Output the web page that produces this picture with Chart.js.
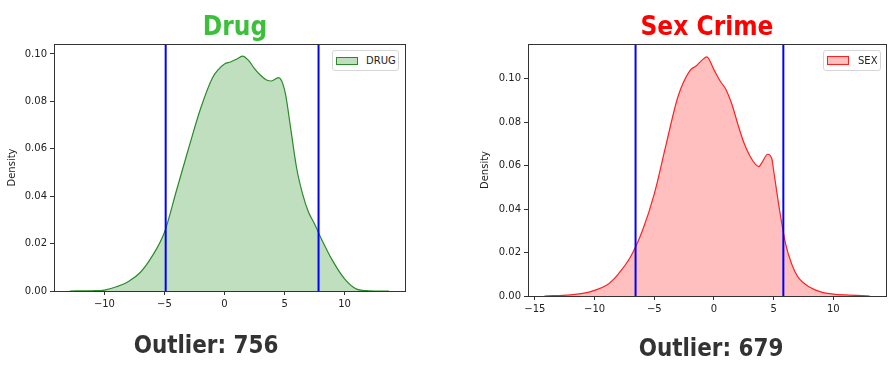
<!DOCTYPE html>
<html>
<head>
<meta charset="utf-8">
<script src="https://cdn.jsdelivr.net/npm/chart.js@4.4.1/dist/chart.umd.min.js"></script>
<style>
  body { margin: 0; background: #fff; font-family: "DejaVu Sans", sans-serif; }
  #wrap { position: relative; width: 894px; height: 377px; overflow: hidden; }
  canvas { position: absolute; top: 0; }
  .title, .outlier {
    position: absolute; width: 300px; text-align: center; font-weight: bold;
    white-space: nowrap; transform-origin: 50% 50%;
  }
  .title { font-size: 26px; line-height: 26px; transform: scaleX(0.9); }
  .outlier { font-size: 25px; line-height: 25px; color: #333; transform: scaleX(0.86); }
  .legend {
    position: absolute; background: #fff; border: 1px solid #d6d6d6; border-radius: 3px;
    font-size: 10px; color: #222; box-sizing: border-box;
  }
  .legend .patch { position: absolute; box-sizing: border-box; border-width: 1px; border-style: solid; }
  .legend .label { position: absolute; line-height: 12px; }
</style>
</head>
<body>
<div id="wrap">
  <canvas id="drugChart" width="447" height="377" style="left:0"></canvas>
  <canvas id="sexChart" width="447" height="377" style="left:447px"></canvas>

  <div class="title" style="left:85px; top:13px; color:#3cc03c;">Drug</div>
  <div class="title" style="left:557px; top:13px; color:#ff0000;">Sex Crime</div>

  <div class="outlier" style="left:56px; top:332px;">Outlier: 756</div>
  <div class="outlier" style="left:561px; top:335px;">Outlier: 679</div>

  <div class="legend" style="left:332px; top:50px; width:67px; height:21px;">
    <div class="patch" style="left:3px; top:6px; width:22px; height:8px; background:#bfdfbf; border-color:#2a8a2a;"></div>
    <div class="label" style="left:33px; top:4px;">DRUG</div>
  </div>
  <div class="legend" style="left:823px; top:50px; width:58px; height:21px;">
    <div class="patch" style="left:3px; top:5px; width:22px; height:9px; background:#ffbfbf; border-color:#ff2020;"></div>
    <div class="label" style="left:34px; top:4px;">SEX</div>
  </div>
</div>

<script>
// Drug KDE
const drugX = [-12.9, -11, -10, -9, -8, -7, -6, -5, -4, -3, -2, -1, -0.5, 0, 0.5, 1, 1.5, 2, 2.5, 3,
  3.5, 3.9, 4.5, 4.85, 5.1, 5.5, 6, 6.5, 7, 7.5, 8, 9, 10, 11, 12, 13.7];
const drugY = [0, 0.0001, 0.0004, 0.0018, 0.004, 0.0079, 0.0149, 0.0248, 0.0424, 0.060, 0.0769, 0.090,
  0.0935, 0.0958, 0.0966, 0.0978, 0.0991, 0.0973, 0.0938, 0.0910, 0.0890, 0.0886, 0.0900, 0.0875,
  0.0825, 0.069, 0.052, 0.041, 0.0332, 0.0283, 0.0227, 0.0128, 0.0051, 0.0008, 0.0001, 0];
const drugCuts = [-4.9, 7.83];
const drugXTicks = [-10, -5, 0, 5, 10];

// Sex crime KDE
const sexX = [-14.2, -12, -11, -10, -9, -8.5, -8, -7, -6, -5, -4, -3, -2, -1.5, -1, -0.6, 0, 0.5, 1,
  1.5, 2, 2.5, 3, 3.5, 3.75, 4, 4.5, 4.85, 5, 5.5, 6, 6.5, 7, 8, 9, 10, 11, 13.05];
const sexY = [0, 0.0005, 0.0012, 0.0026, 0.0049, 0.0072, 0.0102, 0.0179, 0.030, 0.047, 0.070, 0.092,
  0.1038, 0.1058, 0.1085, 0.110, 0.1040, 0.099, 0.095, 0.0882, 0.079, 0.0706, 0.0645, 0.0604, 0.0595,
  0.0612, 0.0652, 0.063, 0.0576, 0.0393, 0.024, 0.0148, 0.009, 0.0041, 0.0018, 0.0009, 0.0005, 0];
const sexCuts = [-6.57, 5.81];
const sexXTicks = [-15, -10, -5, 0, 5, 10];

const yTicks = [0, 0.02, 0.04, 0.06, 0.08, 0.10];

// draws the full matplotlib-style box round the plot
const frame = {
  id: "frame",
  afterDatasetsDraw(chart) {
    const a = chart.chartArea;
    const ctx = chart.ctx;
    ctx.save();
    ctx.strokeStyle = "#333";
    ctx.lineWidth = 1;
    ctx.strokeRect(Math.round(a.left) + 0.5, Math.round(a.top) + 0.5,
      Math.round(a.right - a.left), Math.round(a.bottom - a.top));
    ctx.restore();
  },
};

function makeChart(id, xs, ys, cuts, xTicks, lineColor, fillColor, xRange, yMax, pad, yWidth) {
  const ctx = document.getElementById(id).getContext("2d");
  const cutSets = cuts.map((c) => ({
    data: [{ x: c, y: 0 }, { x: c, y: yMax }],
    borderColor: "#0000ff",
    borderWidth: 2,
    pointRadius: 0,
    fill: false,
    order: 0,
  }));
  return new Chart(ctx, {
    type: "line",
    data: {
      datasets: [
        {
          data: xs.map((x, i) => ({ x: x, y: ys[i] })),
          borderColor: lineColor,
          backgroundColor: fillColor,
          borderWidth: 1.2,
          pointRadius: 0,
          cubicInterpolationMode: "monotone",
          fill: "origin",
          order: 1,
        },
        ...cutSets,
      ],
    },
    options: {
      responsive: false,
      animation: false,
      devicePixelRatio: 1,
      layout: { padding: pad },
      plugins: { legend: { display: false }, tooltip: { enabled: false } },
      scales: {
        x: {
          type: "linear",
          min: xRange[0],
          max: xRange[1],
          border: { display: false },
          grid: { drawOnChartArea: false, color: "#333", tickLength: 4 },
          afterBuildTicks: (s) => { s.ticks = xTicks.map((v) => ({ value: v })); },
          ticks: {
            autoSkip: false,
            maxRotation: 0,
            padding: 3,
            color: "#222",
            font: { family: "DejaVu Sans", size: 10 },
            callback: (v) => String(v).replace("-", "\u2212"),
          },
          afterFit: (s) => { s.height = 20; },
        },
        y: {
          min: 0,
          max: yMax,
          border: { display: false },
          grid: { drawOnChartArea: false, color: "#333", tickLength: 4 },
          afterBuildTicks: (s) => { s.ticks = yTicks.map((v) => ({ value: v })); },
          ticks: {
            padding: 3,
            color: "#222",
            font: { family: "DejaVu Sans", size: 10 },
            callback: (v) => v.toFixed(2),
          },
          title: {
            display: true,
            text: "Density",
            color: "#222",
            padding: { top: 0, bottom: 0 },
            font: { family: "DejaVu Sans", size: 10 },
          },
          afterFit: (s) => { s.width = yWidth; },
        },
      },
    },
    plugins: [frame],
  });
}

const drugChart = makeChart("drugChart", drugX, drugY, drugCuts, drugXTicks,
  "#2a8a2a", "rgba(0, 128, 0, 0.25)", [-14.2, 15.03], 0.1042,
  { left: 6, top: 44, right: 42, bottom: 66 }, 48);

const sexChart = makeChart("sexChart", sexX, sexY, sexCuts, sexXTicks,
  "#ff2020", "rgba(255, 0, 0, 0.25)", [-15.58, 14.41], 0.1159,
  { left: 32, top: 44, right: 8, bottom: 61 }, 49);
</script>
</body>
</html>
